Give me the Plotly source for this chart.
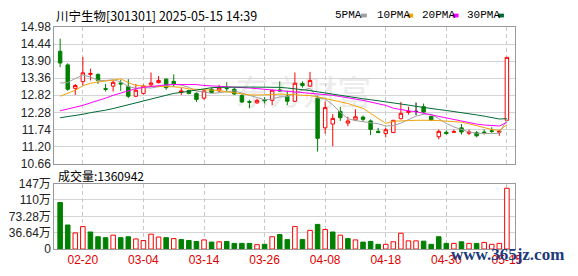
import plotly.graph_objects as go

# ---------------- data ----------------
dates = ["02-17", "02-18", "02-19", "02-20", "02-21", "02-24", "02-25", "02-26", "02-27", "02-28",
         "03-03", "03-04", "03-05", "03-06", "03-07", "03-10", "03-11", "03-12", "03-13", "03-14",
         "03-17", "03-18", "03-19", "03-20", "03-21", "03-24", "03-25", "03-26", "03-27", "03-28",
         "03-31", "04-01", "04-02", "04-03", "04-07", "04-08", "04-09", "04-10", "04-11", "04-14",
         "04-15", "04-16", "04-17", "04-18", "04-21", "04-22", "04-23", "04-24", "04-25", "04-28",
         "04-29", "04-30", "05-06", "05-07", "05-08", "05-09", "05-12", "05-13", "05-14", "05-15"]

open_ = [14.21, 13.78, 13.04, 13.25, 13.48, 13.48, 13.03, 13.11, 13.21, 13.09,
         12.79, 12.88, 13.15, 13.22, 13.33, 13.26, 12.91, 12.97, 12.88, 12.73,
         13.01, 12.96, 13.04, 13.01, 12.81, 12.62, 12.58, 12.68, 12.66, 12.99,
         12.79, 12.63, 13.19, 13.11, 12.73, 11.79, 11.91, 12.31, 11.94, 12.04,
         12.13, 12.01, 11.68, 11.61, 11.64, 12.08, 12.28, 12.31, 12.46, 12.16,
         11.51, 11.65, 11.65, 11.79, 11.62, 11.64, 11.66, 11.70, 11.65, 12.03]
high = [14.61, 13.83, 13.18, 14.03, 13.66, 13.51, 13.18, 13.29, 13.31, 13.33,
        13.18, 13.16, 13.54, 13.43, 13.35, 13.48, 13.05, 12.99, 12.91, 12.99,
        13.06, 13.15, 13.23, 13.05, 12.86, 12.68, 12.71, 12.76, 12.99, 13.26,
        12.96, 13.54, 13.26, 13.56, 12.81, 12.63, 12.23, 12.46, 12.14, 12.38,
        12.18, 12.06, 11.79, 11.79, 12.04, 12.61, 12.46, 12.59, 12.56, 12.16,
        11.74, 11.71, 11.74, 11.91, 11.74, 11.69, 11.74, 11.81, 11.73, 14.02]
low = [13.71, 12.96, 12.83, 13.13, 13.29, 13.18, 12.94, 12.94, 12.96, 12.73,
       12.76, 12.84, 13.11, 13.19, 12.99, 13.08, 12.83, 12.85, 12.61, 12.68,
       12.88, 12.91, 12.95, 12.83, 12.58, 12.41, 12.55, 12.56, 12.51, 12.93,
       12.51, 12.61, 13.06, 13.08, 11.04, 11.61, 11.21, 12.01, 11.84, 12.01,
       11.98, 11.56, 11.63, 11.49, 11.63, 12.06, 12.21, 12.19, 12.26, 12.01,
       11.43, 11.58, 11.63, 11.58, 11.56, 11.49, 11.58, 11.63, 11.54, 12.02]
close = [13.84, 13.01, 13.13, 13.53, 13.51, 13.29, 13.01, 13.23, 13.18, 12.79,
         12.98, 13.11, 13.21, 13.29, 13.06, 13.16, 12.96, 12.88, 12.69, 12.96,
         12.91, 13.05, 13.03, 12.86, 12.61, 12.60, 12.66, 12.65, 12.98, 12.96,
         12.63, 13.20, 13.13, 13.29, 11.46, 12.43, 12.09, 12.11, 12.01, 12.14,
         12.06, 11.74, 11.64, 11.73, 12.03, 12.25, 12.31, 12.31, 12.29, 12.04,
         11.68, 11.61, 11.67, 11.66, 11.66, 11.54, 11.64, 11.68, 11.68, 14.02]

ma5 = [13.21, 13.22, 13.35, 13.46, 13.40, 13.29, 13.29, 13.31, 13.24, 13.10,
       13.04, 13.06, 13.05, 13.08, 13.13, 13.17, 13.14, 13.07, 12.95, 12.93,
       12.88, 12.90, 12.93, 12.96, 12.89, 12.83, 12.75, 12.68, 12.70, 12.77,
       12.78, 12.89, 12.98, 13.04, 12.74, 12.70, 12.52, 12.28, 12.08, 12.02,
       11.99, 11.97, 11.92, 11.85, 11.86, 11.94, 12.05, 12.16, 12.22, 12.22,
       12.08, 11.93, 11.82, 11.73, 11.66, 11.62, 11.61, 11.61, 11.62, 12.05]
ma10 = [12.79, 12.88, 12.98, 13.12, 13.20, 13.24, 13.26, 13.30, 13.34, 13.22,
        13.13, 13.11, 13.10, 13.10, 13.10, 13.09, 13.07, 13.02, 13.01, 13.00,
        12.98, 12.97, 12.93, 12.89, 12.86, 12.83, 12.83, 12.83, 12.84, 12.86,
        12.85, 12.85, 12.84, 12.81, 12.77, 12.72, 12.66, 12.60, 12.56, 12.48,
        12.41, 12.25, 12.10, 11.93, 12.00, 12.02, 12.02, 12.03, 12.04, 12.03,
        12.02, 12.00, 11.99, 11.97, 11.92, 11.86, 11.80, 11.74, 11.71, 11.89]
ma20 = [12.33, 12.38, 12.44, 12.50, 12.58, 12.65, 12.73, 12.82, 12.89, 12.96,
        13.03, 13.07, 13.10, 13.13, 13.15, 13.16, 13.16, 13.16, 13.16, 13.13,
        13.12, 13.11, 13.10, 13.08, 13.07, 13.05, 13.03, 13.01, 12.99, 12.97,
        12.95, 12.92, 12.91, 12.90, 12.88, 12.85, 12.82, 12.78, 12.75, 12.70,
        12.66, 12.61, 12.56, 12.50, 12.41, 12.36, 12.33, 12.30, 12.25, 12.20,
        12.15, 12.10, 12.06, 12.01, 11.96, 11.91, 11.88, 11.86, 11.85, 11.96]
ma30 = [12.11, 12.14, 12.17, 12.22, 12.27, 12.30, 12.35, 12.40, 12.46, 12.52,
        12.58, 12.63, 12.70, 12.76, 12.82, 12.88, 12.91, 12.95, 12.99, 13.04,
        13.06, 13.07, 13.08, 13.08, 13.08, 13.08, 13.08, 13.08, 13.08, 13.07,
        13.05, 13.03, 13.00, 12.97, 12.93, 12.89, 12.86, 12.81, 12.78, 12.74,
        12.71, 12.68, 12.65, 12.62, 12.57, 12.54, 12.51, 12.47, 12.43, 12.40,
        12.37, 12.34, 12.31, 12.27, 12.23, 12.20, 12.16, 12.12, 12.07, 12.08]

latest_volume = 1360942
volume_wan = [104.1, 53.8, 36.1, 50.3, 38.2, 27.6, 25.5, 31.1, 25.5, 27.6,
              22.7, 19.1, 33.3, 26.9, 25.5, 23.4, 21.2, 19.1, 17.0, 20.5,
              15.6, 16.3, 17.0, 12.7, 12.7, 12.7, 9.9, 10.6, 27.6, 32.5,
              21.2, 50.3, 21.2, 41.8, 55.2, 43.9, 38.2, 31.1, 23.4, 20.5,
              15.6, 17.0, 10.6, 10.6, 16.3, 35.4, 18.4, 18.4, 17.7, 10.6,
              27.6, 12.7, 12.7, 16.3, 12.7, 12.7, 14.9, 10.6, 12.7, latest_volume / 10000]

price_ticks = [10.66, 11.20, 11.74, 12.28, 12.82, 13.36, 13.90, 14.44, 14.98]
vol_ticks = [0, 36.64, 73.28, 109.92, 146.56]
vol_tick_text = ["0", "36.64万", "73.28万", "110万", "147万"]
title_text = "川宁生物[301301] 2025-05-15 14:39"
ma_names = ["5PMA", "10PMA", "20PMA", "30PMA"]

# ---------------- styles ----------------
RED = "#ff0000"
GREEN = "#008000"
MA_COLORS = ["#a0a0a0", "#f0a30a", "#ff00ff", "#006a32"]
W, H = 578, 276
X0, X1 = 55, 522
FONT_NUM = "Liberation Sans, Arial, Noto Sans CJK SC, sans-serif"
FONT_CJK = "Noto Sans CJK SC, sans-serif"

n = len(close)
idx = list(range(n))


def px_x(p):
    return p / W


def px_y(p):
    return 1 - p / H


fig = go.Figure()

# MA lines
for name, vals, col in zip(ma_names, [ma5, ma10, ma20, ma30], MA_COLORS):
    fig.add_trace(go.Scatter(x=idx, y=vals, mode="lines", line=dict(color=col, width=1),
                             xaxis="x2", yaxis="y2", hoverinfo="skip", showlegend=False))

# candles split by direction
groups = [
    ([i for i in idx if close[i] > open_[i]], RED, "white"),
    ([i for i in idx if close[i] < open_[i]], GREEN, GREEN),
    ([i for i in idx if close[i] == open_[i]], "#000000", "#000000"),
]
for sel, lc, fc in groups:
    if not sel:
        continue
    style = dict(line=dict(color=lc, width=1), fillcolor=fc)
    fig.add_trace(go.Candlestick(
        x=sel, open=[open_[i] for i in sel], high=[high[i] for i in sel],
        low=[low[i] for i in sel], close=[close[i] for i in sel],
        increasing=style, decreasing=style, whiskerwidth=0,
        xaxis="x2", yaxis="y2", hoverinfo="skip", showlegend=False))

# volume bars (colour by close vs previous close)
up = [close[0] >= open_[0]] + [close[i] >= close[i - 1] for i in idx[1:]]
fig.add_trace(go.Bar(
    x=idx, y=volume_wan, width=0.6,
    marker=dict(color=["white" if u else GREEN for u in up],
                line=dict(color=[RED if u else GREEN for u in up], width=1)),
    xaxis="x", yaxis="y", hoverinfo="skip", showlegend=False))

tick_idx = list(range(3, n, 8))
xr = [-0.78, n - 1 + 0.04 + 1 - 1 + 0.0 + 0.0 + 0.0]
xr = [-0.78, 60.04]
common_x = dict(range=xr, tickvals=tick_idx, showgrid=True, gridcolor="#c8c8c8",
                griddash="4px,3px", gridwidth=1, zeroline=False, showline=True,
                linecolor="#999999", linewidth=1, mirror=True, ticks="",
                fixedrange=True)

fig.update_layout(
    width=W, height=H, autosize=False,
    margin=dict(l=0, r=0, t=0, b=0),
    paper_bgcolor="white", plot_bgcolor="white",
    boxgap=0.35, bargap=0.3,
    showlegend=False,
    xaxis=dict(domain=[px_x(X0), px_x(X1)], anchor="y",
               ticktext=[dates[i] for i in tick_idx],
               tickfont=dict(family=FONT_NUM, size=12, color="#e00000"),
               **common_x),
    xaxis2=dict(domain=[px_x(X0), px_x(X1)], anchor="y2", matches="x",
                showticklabels=False, rangeslider=dict(visible=False), **common_x),
    yaxis=dict(domain=[px_y(255), px_y(186)], anchor="x", range=[0, vol_ticks[-1]],
               tickvals=vol_ticks, ticktext=vol_tick_text,
               tickfont=dict(family=FONT_NUM, size=12, color="#222222"),
               showgrid=True, gridcolor="#d4d4d4", zeroline=False, showline=True,
               linecolor="#999999", mirror=True, ticks="", fixedrange=True),
    yaxis2=dict(domain=[px_y(165), px_y(21)], anchor="x2",
                range=[price_ticks[0], price_ticks[-1]],
                tickvals=price_ticks, ticktext=["%.2f" % v for v in price_ticks],
                tickfont=dict(family=FONT_NUM, size=12, color="#222222"),
                showgrid=True, gridcolor="#d4d4d4", zeroline=False, showline=True,
                linecolor="#999999", mirror=True, ticks="", fixedrange=True),
)

annotations = [
    dict(text=title_text, x=px_x(55), y=px_y(8.5), xref="paper", yref="paper",
         xanchor="left", yanchor="middle", showarrow=False,
         font=dict(family=FONT_CJK, size=12.5, color="#000000")),
    dict(text="成交量:%d" % latest_volume, x=px_x(57), y=px_y(177.5), xref="paper", yref="paper",
         xanchor="left", yanchor="middle", showarrow=False,
         font=dict(family=FONT_CJK, size=12, color="#000000")),
    dict(text="www.365jz.com", x=px_x(455), y=px_y(261), xref="paper", yref="paper",
         xanchor="left", yanchor="middle", showarrow=False,
         font=dict(family="Liberation Serif, serif", size=17, color="#1c3a7c", weight="bold")),
]
shapes = []
legend_text_x = [338, 380, 426, 472]
legend_swatch_x = [366, 413, 459, 505]
for name, col, tx, sx in zip(ma_names, MA_COLORS, legend_text_x, legend_swatch_x):
    annotations.append(dict(text=name, x=px_x(tx), y=px_y(8.5), xref="paper", yref="paper",
                            xanchor="left", yanchor="middle", showarrow=False,
                            font=dict(family="Liberation Mono, monospace", size=11, color="#000000")))
    shapes.append(dict(type="rect", xref="paper", yref="paper",
                       x0=px_x(sx), x1=px_x(sx + 6), y0=px_y(11), y1=px_y(7),
                       line=dict(width=0), fillcolor=col))

# faint watermark of the data vendor
shapes.append(dict(type="rect", xref="paper", yref="paper", layer="below",
                   x0=px_x(230), x1=px_x(385), y0=px_y(112), y1=px_y(74),
                   line=dict(width=0), fillcolor="rgba(0,0,0,0)",
                   label=dict(text="东方财富", font=dict(family=FONT_CJK, size=34, color="#ececec"))))

fig.update_layout(annotations=annotations, shapes=shapes)

fig.write_html("out.html")
